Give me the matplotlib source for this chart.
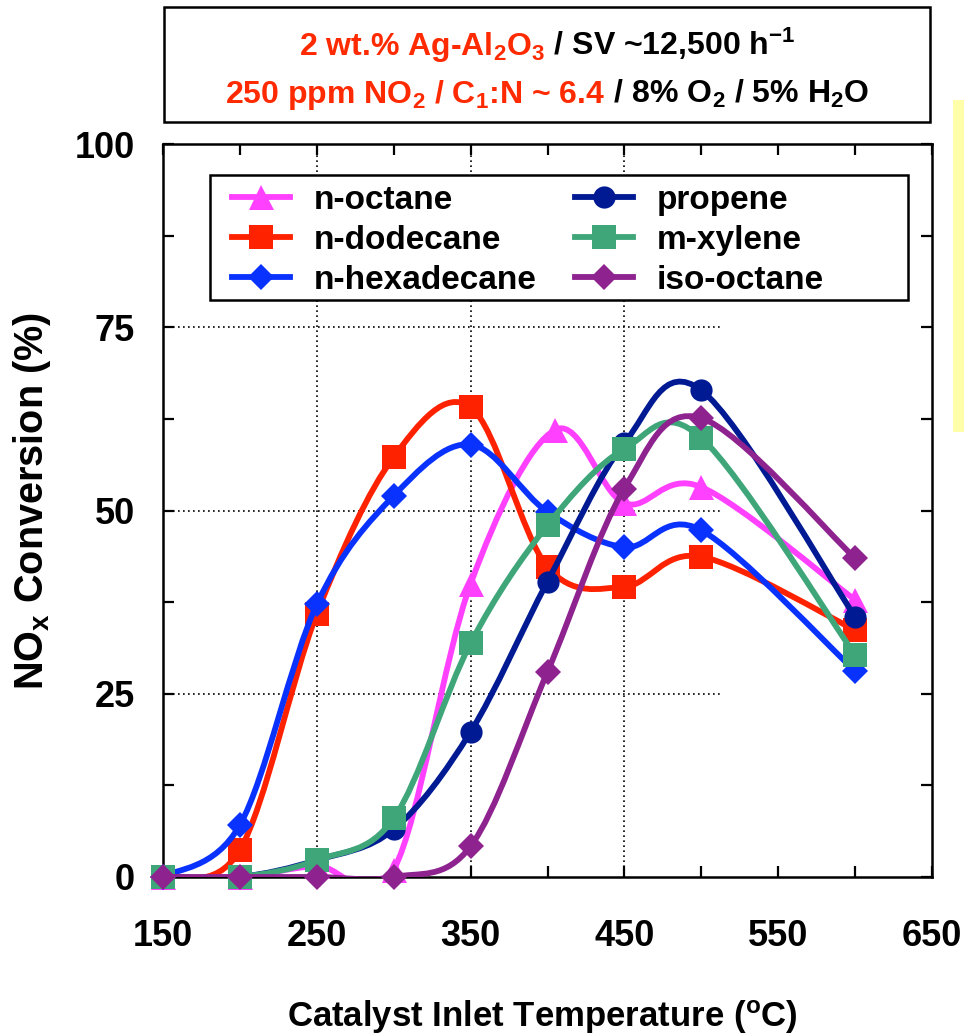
import matplotlib
matplotlib.use("Agg")
import matplotlib.pyplot as plt
from matplotlib.path import Path
from matplotlib.patches import PathPatch, Rectangle
from matplotlib.lines import Line2D
import numpy as np

plt.rcParams['font.family'] = ['Liberation Sans', 'DejaVu Sans']
plt.rcParams['font.weight'] = 'bold'
plt.rcParams['mathtext.fontset'] = 'custom'
plt.rcParams['mathtext.rm'] = 'Liberation Sans:bold'
plt.rcParams['mathtext.it'] = 'Liberation Sans:bold'
plt.rcParams['mathtext.bf'] = 'Liberation Sans:bold'
plt.rcParams['mathtext.default'] = 'rm'

# ---------------- data ----------------
temps = [150, 200, 250, 300, 350, 400, 450, 500, 600]
temps_octane = [150, 200, 250, 300, 350, 405, 450, 500, 600]

n_octane = [0, 0, 1.5, 1, 40, 61, 51, 53.2, 37.8]
n_dodecane = [0, 3.7, 35.9, 57.3, 64.1, 42.3, 39.6, 43.7, 33.7]
n_hexadecane = [0, 7.1, 37.2, 52, 59, 49.8, 45, 47.3, 28.1]
propene = [0, 0, 2.3, 6.5, 19.8, 40.3, 59.2, 66.4, 35.5]
m_xylene = [0, 0, 2.3, 8, 31.9, 48, 58.4, 59.9, 30.3]
iso_octane = [0, 0, 0, 0, 4.2, 28, 53, 62.6, 43.5]

labels = ['n-octane', 'n-dodecane', 'n-hexadecane', 'propene', 'm-xylene', 'iso-octane']
xticks = [150, 250, 350, 450, 550, 650]
yticks = [0, 25, 50, 75, 100]

series = [
    (labels[0], temps_octane, n_octane, '#FF40FF', '^', 18),
    (labels[1], temps, n_dodecane, '#FF2200', 's', 17),
    (labels[2], temps, n_hexadecane, '#0A32FF', 'D', 13.5),
    (labels[3], temps, propene, '#001A94', 'o', 16),
    (labels[4], temps, m_xylene, '#3FA67A', 's', 17),
    (labels[5], temps, iso_octane, '#8E2390', 'D', 13.5),
]

W, H = 964, 1034
fig = plt.figure(figsize=(W / 100, H / 100), dpi=100)
ax = fig.add_axes([163 / W, 1 - 877 / H, 769 / W, 733 / H])


def smooth_path(x, y):
    """Excel-style smoothed line: cubic Bezier through the data points."""
    pts = np.column_stack([x, y]).astype(float)
    n = len(pts)
    verts = [pts[0]]
    codes = [Path.MOVETO]
    for i in range(n - 1):
        p0 = pts[i - 1] if i > 0 else pts[i]
        p1 = pts[i]
        p2 = pts[i + 1]
        p3 = pts[i + 2] if i + 2 < n else pts[i + 1]
        c1 = p1 + (p2 - p0) / 6.0
        c2 = p2 - (p3 - p1) / 6.0
        verts += [c1, c2, p2]
        codes += [Path.CURVE4] * 3
    return Path(verts, codes)


# partial dotted grid
ax.hlines([25, 50, 75], 150, 512, colors='black', linestyles=(0, (1, 2)), linewidth=1.2, zorder=1)
ax.vlines([250, 350, 450], 0, 100, colors='black', linestyles=(0, (1, 2)), linewidth=1.2, zorder=1)

handles = []
for z, (lab, xs, ys, col, mk, ms) in enumerate(series):
    patch = PathPatch(smooth_path(xs, ys), facecolor='none', edgecolor=col,
                      linewidth=4.2, zorder=3 + z, capstyle='round', joinstyle='round')
    ax.add_patch(patch)
    ax.plot(xs, ys, linestyle='none', marker=mk, markersize=ms, color=col,
            markeredgewidth=0, zorder=3 + z, clip_on=False)
    handles.append(Line2D([], [], color=col, linewidth=4.2, marker=mk,
                          markersize=ms, markeredgewidth=0, label=lab))

ax.set_xlim(150, 650)
ax.set_ylim(0, 100)
ax.set_xticks(xticks)
ax.set_xticks(np.arange(200, 650, 50), minor=True)
ax.set_yticks(yticks)
ax.set_yticks(np.arange(12.5, 100, 25), minor=True)
ax.tick_params(which='both', direction='in', top=True, right=True, length=8, width=1.6)
ax.tick_params(which='minor', labelbottom=False, labelleft=False)
ax.tick_params(axis='x', which='major', pad=30, labelsize=26)
ax.tick_params(axis='y', which='major', pad=20, labelsize=26)
for lbl in ax.get_xticklabels() + ax.get_yticklabels():
    lbl.set_fontweight('bold')
for sp in ax.spines.values():
    sp.set_linewidth(1.8)

# legend frame (white box) and legend (two columns)
ax.add_patch(Rectangle((0.0611, 0.787), 0.9077, 0.1705, transform=ax.transAxes,
                       facecolor='white', edgecolor='black', linewidth=1.8, zorder=2))
leg = ax.legend(handles, labels, ncol=2, loc='upper left',
                bbox_to_anchor=(0.0897, 0.944), fontsize=24, frameon=False,
                handlelength=1.75, handletextpad=0.7, labelspacing=0.27,
                borderpad=0, columnspacing=1.15, borderaxespad=0)
leg.set_zorder(20)
for t in leg.get_texts():
    t.set_fontweight('bold')

# axis labels
fig.text(542 / W, 1 - 1027 / H, 'Catalyst Inlet Temperature ($^{o}$C)', ha='center',
         va='baseline', fontsize=25, fontweight='bold')
fig.text(32 / W, 1 - 501 / H, 'NO$_{x}$ Conversion (%)', ha='center', va='center',
         rotation=90, fontsize=28.5, fontweight='bold')

# title box
fig.patches.append(Rectangle((164 / W, 1 - 122 / H), (930 - 164) / W, (122 - 7) / H,
                             transform=fig.transFigure, facecolor='white',
                             edgecolor='black', linewidth=1.8))
# yellow strip at the right
fig.patches.append(Rectangle((953 / W, 1 - 432 / H), 12 / W, (432 - 100) / H,
                             transform=fig.transFigure, facecolor='#FFFFAA',
                             edgecolor='none'))

RED = '#FF2A00'
title_lines = [
    ([('2 wt.% Ag-Al$_{2}$O$_{3}$', RED), (' / SV ~12,500 h$^{-1}$', 'black')], 55),
    ([('250 ppm NO$_{2}$ / C$_{1}$:N ~ 6.4', RED), (' / 8% O$_{2}$ / 5% H$_{2}$O', 'black')], 103),
]
renderer = fig.canvas.get_renderer()
for pieces, base_y in title_lines:
    texts = []
    for s, c in pieces:
        t = fig.text(0, 1 - base_y / H, s, color=c, fontsize=23, fontweight='bold',
                     ha='left', va='baseline')
        texts.append(t)
    widths = [t.get_window_extent(renderer).width for t in texts]
    total = sum(widths)
    x0 = 547 - total / 2
    for t, w in zip(texts, widths):
        t.set_x(x0 / W)
        x0 += w

fig.savefig('out.png', dpi=100)
